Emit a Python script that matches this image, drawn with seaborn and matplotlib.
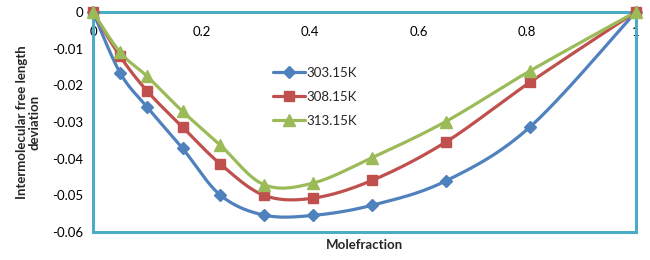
import numpy as np
import matplotlib
matplotlib.use("Agg")
import matplotlib.pyplot as plt
import seaborn as sns
from matplotlib.lines import Line2D

# ---- data ----
mole_fraction = [0, 0.05, 0.10, 0.165, 0.235, 0.315, 0.405, 0.515, 0.65, 0.805, 1.0]
dev_303 = [0, -0.0166, -0.0260, -0.0372, -0.0500, -0.0554, -0.0555, -0.0527, -0.0461, -0.0314, 0]
dev_308 = [0, -0.0121, -0.0216, -0.0314, -0.0415, -0.0500, -0.0508, -0.0459, -0.0355, -0.0192, 0]
dev_313 = [0, -0.0110, -0.0176, -0.0271, -0.0364, -0.0471, -0.0467, -0.0397, -0.0299, -0.0161, 0]
series_labels = ["303.15K", "308.15K", "313.15K"]
x_ticks = [0, 0.2, 0.4, 0.6, 0.8, 1]
x_tick_labels = ["0", "0.2", "0.4", "0.6", "0.8", "1"]
y_ticks = [0, -0.01, -0.02, -0.03, -0.04, -0.05, -0.06]
y_tick_labels = ["0", "-0.01", "-0.02", "-0.03", "-0.04", "-0.05", "-0.06"]

colors = ["#4F81BD", "#C0504D", "#9BBB59"]
markers = ["D", "s", "^"]
msizes = [6, 7.5, 8]


def smooth(x, y, n=30):
    """Excel-like smoothed line (Catmull-Rom via cubic Bezier)."""
    P = np.column_stack([x, y]).astype(float)
    out = []
    t = np.linspace(0, 1, n)[:, None]
    for i in range(len(P) - 1):
        p0 = P[i - 1] if i > 0 else P[i]
        p1, p2 = P[i], P[i + 1]
        p3 = P[i + 2] if i + 2 < len(P) else P[i + 1]
        c1 = p1 + (p2 - p0) / 6.0
        c2 = p2 - (p3 - p1) / 6.0
        seg = ((1 - t) ** 3) * p1 + 3 * ((1 - t) ** 2) * t * c1 + 3 * (1 - t) * t ** 2 * c2 + t ** 3 * p2
        out.append(seg if i == 0 else seg[1:])
    s = np.vstack(out)
    return s[:, 0], s[:, 1]


sns.set_style("white")
plt.rcParams["font.family"] = ["Lato", "DejaVu Sans"]

fig = plt.figure(figsize=(6.5, 2.6), dpi=100)
ax = fig.add_axes([0.143, 0.108, 0.835, 0.846])

series = [dev_303, dev_308, dev_313]
handles = []
for vals, c, m, ms, lab in zip(series, colors, markers, msizes, series_labels):
    sx, sy = smooth(mole_fraction, vals)
    sns.lineplot(x=sx, y=sy, ax=ax, color=c, linewidth=2.3, sort=False,
                 estimator=None, legend=False, clip_on=False, zorder=3)
    ax.plot(mole_fraction, vals, linestyle="none", marker=m, markersize=ms,
            color=c, markeredgecolor=c, clip_on=False, zorder=4)
    handles.append(Line2D([0], [0], color=c, linewidth=2.3, marker=m,
                          markersize=ms, markeredgecolor=c, label=lab))

ax.set_xlim(0, 1)
ax.set_ylim(-0.06, 0)

spine_c = "#4BACC6"
for s in ax.spines.values():
    s.set_color(spine_c)
    s.set_linewidth(2.2)

ax.xaxis.tick_top()
ax.set_xticks(x_ticks)
ax.set_xticklabels(x_tick_labels)
ax.set_yticks(y_ticks)
ax.set_yticklabels(y_tick_labels)
ax.tick_params(axis="x", length=0, pad=-19, labelsize=9.5, colors="black")
ax.tick_params(axis="y", length=0, pad=7, labelsize=9.5, colors="black")

ax.set_xlabel("Molefraction", fontsize=9.5, fontweight="bold", labelpad=5)
ax.xaxis.set_label_position("bottom")
ax.set_ylabel("Intermolecular free length\ndeviation", fontsize=9.5,
              fontweight="bold", labelpad=8, linespacing=1.1)

ax.legend(handles=handles, loc="upper left", bbox_to_anchor=(0.32, 0.78),
          frameon=False, fontsize=9.5, handlelength=2.4, handletextpad=0.1,
          labelspacing=0.9, borderpad=0)

fig.savefig("out.png", dpi=100)
